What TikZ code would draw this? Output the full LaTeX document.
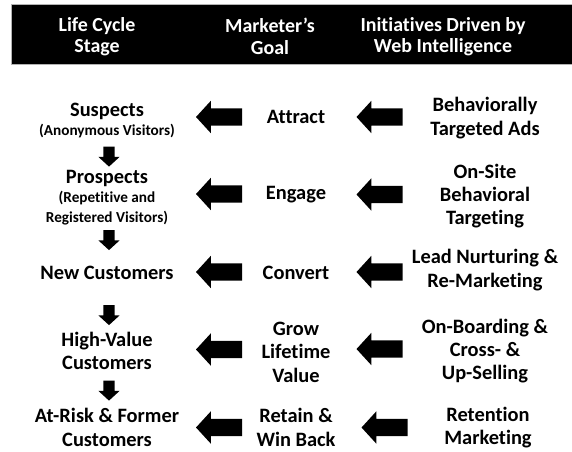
\documentclass[tikz,border=0pt]{standalone}
\usepackage{fontspec}
\setmainfont{Carlito}[Ligatures=NoCommon]
\usetikzlibrary{shapes.arrows}
\begin{document}
\begin{tikzpicture}[x=1bp,y=-1bp,
  lbl/.style={font=\fontsize{20.5}{23.5}\selectfont\bfseries, align=center, inner sep=0pt},
  sublbl/.style={font=\fontsize{15.3}{19.5}\selectfont\bfseries, align=center, inner sep=0pt},
  hdr/.style={align=center, inner sep=0pt, text=white, font=\fontsize{20}{21.5}\selectfont\bfseries},
  larrow/.style={single arrow, fill=black, draw=none, shape border rotate=180,
    minimum height=46bp, minimum width=32bp, single arrow head extend=7.5bp,
    single arrow tip angle=95, inner sep=8.5bp},
  darrow/.style={single arrow, fill=black, draw=none, shape border rotate=270,
    minimum height=20bp, minimum width=21bp, single arrow head extend=5bp,
    single arrow tip angle=95, inner sep=5.5bp}]
\useasboundingbox (0,0) rectangle (572,452);
% header bar
\fill[black, draw=gray!60, line width=0.6bp] (11,4) rectangle (572,64);
\node[hdr] (h1) at (97,36.5) {Life Cycle\\Stage};
\node[hdr] (h2) at (270,36.5) {Marketer’s\\Goal};
\node[hdr] (h3) at (443,36.5) {Initiatives Driven by\\Web Intelligence};
% left column
\node[lbl] (s1) at (107,111) {Suspects};
\node[sublbl] (s1b) at (107,131) {(Anonymous Visitors)};
\node[lbl] (s2) at (107,178) {Prospects};
\node[sublbl] (s2b) at (107,208) {(Repetitive and\\Registered Visitors)};
\node[lbl] (s3) at (107,273) {New Customers};
\node[lbl] (s4) at (107,351) {High-Value\\Customers};
\node[lbl] (s5) at (107,427.5) {At-Risk \& Former\\Customers};
% down arrows
\node[darrow] (d1) at (109,154) {};
\node[darrow] (d2) at (109,237.5) {};
\node[darrow] (d3) at (109,312.5) {};
\node[darrow] (d4) at (109,388) {};
% middle column
\node[lbl] (g1) at (296,117) {Attract};
\node[lbl] (g2) at (296,195) {Engage};
\node[lbl] (g3) at (296,273) {Convert};
\node[lbl] (g4) at (296,352) {Grow\\Lifetime\\Value};
\node[lbl] (g5) at (296,427.5) {Retain \&\\Win Back};
% right column
\node[lbl] (i1) at (485,118) {Behaviorally\\Targeted Ads};
\node[lbl] (i2) at (485,196) {On-Site\\Behavioral\\Targeting};
\node[lbl] (i3) at (485,270) {Lead Nurturing \&\\Re-Marketing};
\node[lbl] (i4) at (485,351) {On-Boarding \&\\Cross- \&\\Up-Selling};
\node[lbl] (i5) at (488,427.5) {Retention\\Marketing};
% left arrows
\node[larrow] (a1) at (223,117) {};
\node[larrow] (a2) at (223,194) {};
\node[larrow] (a3) at (223,272) {};
\node[larrow] (a4) at (223,349.5) {};
\node[larrow] (a5) at (223,427.5) {};
% right arrows
\node[larrow] (b1) at (383.5,117) {};
\node[larrow] (b2) at (383.5,194.5) {};
\node[larrow] (b3) at (383.5,272) {};
\node[larrow] (b4) at (383.5,349) {};
\node[larrow] (b5) at (388.5,427.5) {};
\end{tikzpicture}
\end{document}
